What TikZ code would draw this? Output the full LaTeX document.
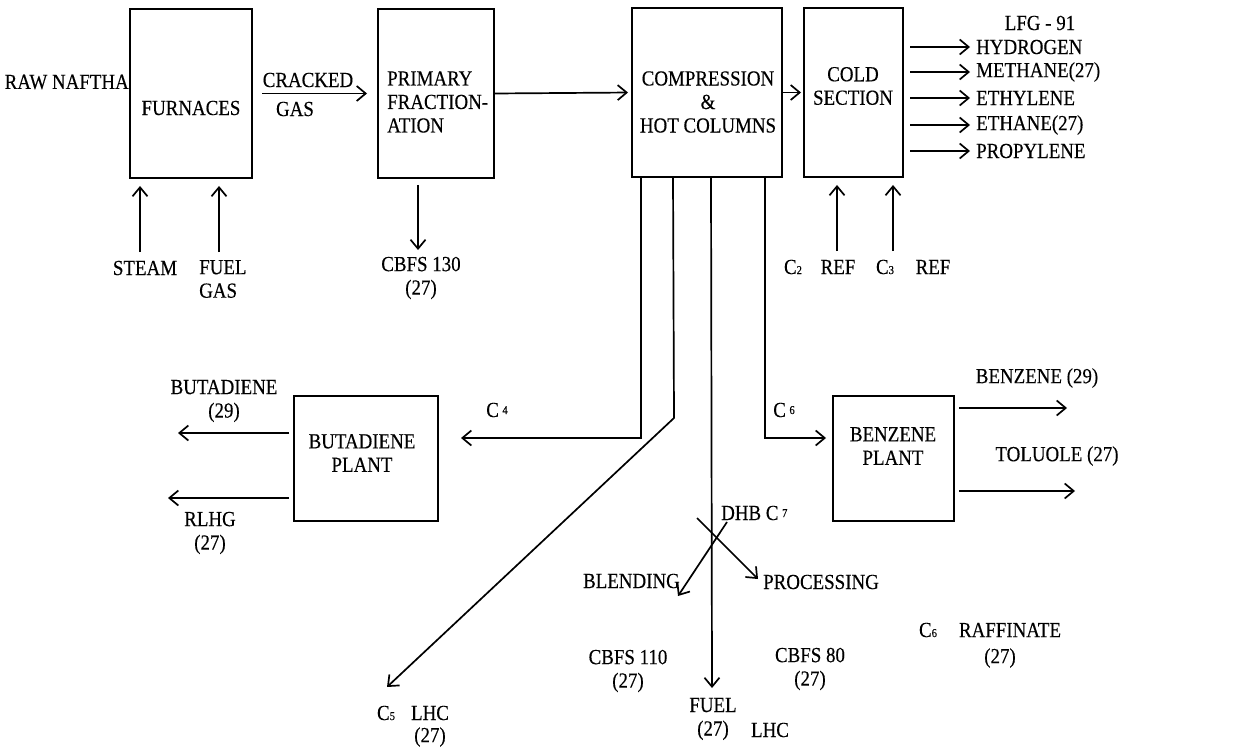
\documentclass[tikz,border=0pt]{standalone}
\usepackage{fontspec}
\setmainfont{Liberation Serif}[FakeStretch=0.88, FakeBold=0.3]
\usetikzlibrary{arrows.meta,calc}

\newcommand{\sm}[1]{{\fontsize{12}{12}\selectfont #1}}

\begin{document}
\begin{tikzpicture}[x=1pt, y=-1pt,
   font=\fontsize{21.5}{23.5}\selectfont,
   unit/.style={draw, line width=2pt, inner sep=0pt},
   lbl/.style={inner sep=0pt, align=center},
   flow/.style={line width=1.7pt, ->},
   >={Straight Barb[length=9pt, width=15pt]}]
  \useasboundingbox (0,0) rectangle (1238,751);

  % process units
  \node[unit, minimum width=122pt, minimum height=169pt] (furn) at (191,93.5) {};
  \node[unit, minimum width=116pt, minimum height=169pt] (prim) at (436,93.5) {};
  \node[unit, minimum width=150pt, minimum height=169pt] (comp) at (707,92.5) {};
  \node[unit, minimum width=99pt, minimum height=169pt] (cold) at (853.5,92.5) {};
  \node[unit, minimum width=144pt, minimum height=125pt] (butp) at (366,458.5) {};
  \node[unit, minimum width=121pt, minimum height=125pt] (benp) at (893.5,458.5) {};

  \node[lbl] (furnT) at (191,108) {FURNACES};
  \node[lbl, align=left, anchor=west] (primT) at (387,102) {PRIMARY\\FRACTION-\\ATION};
  \node[lbl] (compT) at (708,102) {COMPRESSION\\\&\hspace*{36pt}\\HOT COLUMNS};
  \node[lbl] (coldT) at (853,86) {COLD\\SECTION};
  \node[lbl] (butpT) at (362,453) {BUTADIENE\\PLANT};
  \node[lbl] (benpT) at (893,446) {BENZENE\\PLANT};

  % feeds and main train
  \node[lbl, anchor=east] (naph) at (129,82) {RAW NAFTHA};
  \node[lbl] (crk) at (308,80) {CRACKED};
  \node[lbl] (crkgas) at (295,109) {GAS};
  \draw[flow, shorten <=9pt, shorten >=10pt] (furn.east) -- (prim.west);
  \draw[flow, shorten >=3pt] (prim.east) -- (comp.west);
  \draw[flow, shorten >=2pt] (comp.east) -- (cold.west);

  \node[lbl] (steam) at (145,268) {STEAM};
  \node[lbl, align=left, anchor=west] (fgas) at (199,279) {FUEL\\GAS};
  \coordinate (stIn) at (140,252);
  \coordinate (fgIn) at (219,252);
  \draw[flow, shorten >=7pt] (stIn) -- (stIn |- furn.south);
  \draw[flow, shorten >=7pt] (fgIn) -- (fgIn |- furn.south);

  \node[lbl] (cb130) at (421,278) {CBFS 130\\(27)};
  \coordinate (p130) at (418,178);
  \coordinate (p130e) at (418,250);
  \draw[flow, shorten <=7pt] (p130) -- (p130e);

  % cold section products
  \node[lbl] (lfg) at (1040,23) {LFG - 91};
  \foreach \n/\y/\t in {hyd/47/HYDROGEN, meth/72/METHANE(27), ethy/98/ETHYLENE,
                        etha/125/ETHANE(27), prop/151/PROPYLENE}
  {
    \node[lbl, anchor=west] (\n) at (976,\y) {\t};
    \draw[flow, shorten <=6pt, shorten >=6pt] (cold.east |- \n.west) -- (\n.west);
  }

  \node[lbl] (c2) at (793,267) {C\sm{2}};
  \node[lbl] (r2) at (838,267) {REF};
  \node[lbl] (c3) at (885,267) {C\sm{3}};
  \node[lbl] (r3) at (933,267) {REF};
  \coordinate (c2In) at (837,251);
  \coordinate (c3In) at (893,251);
  \draw[flow, shorten >=7pt] (c2In) -- (c2In |- cold.south);
  \draw[flow, shorten >=7pt] (c3In) -- (c3In |- cold.south);

  % side draws from the hot columns
  \coordinate (t4) at ($(comp.south west)+(10,0)$);
  \coordinate (t5) at ($(comp.south west)+(42,0)$);
  \coordinate (tf) at ($(comp.south west)+(80,0)$);
  \coordinate (t6) at ($(comp.south west)+(134,0)$);
  \coordinate (k5) at (674,418);
  \coordinate (e5) at (387,687);
  \coordinate (ef) at (712,688);

  \node[lbl] (c4) at (497,410) {C\,\raisebox{3pt}{\sm{4}}};
  \draw[flow, shorten >=22pt] (t4) |- (butp.east |- 0,438);
  \node[lbl] (c6) at (784,410) {C\,\raisebox{3pt}{\sm{6}}};
  \draw[flow, shorten >=6pt] (t6) |- (benp.west |- 0,438);
  \draw[flow] (t5) -- (k5) -- (e5);
  \draw[flow] (tf) -- (ef);

  \node[lbl] (c5) at (386,713) {C\sm{5}};
  \node[lbl] (lhc5) at (430,713) {LHC};
  \node[lbl] (lhc5n) at (430,737) {(27)};
  \node[lbl] (fuel) at (713,719) {FUEL\\(27)};
  \node[lbl] (lhcf) at (770,730) {LHC};

  % DHB C7 split
  \node[lbl, anchor=west] (dhb) at (721,513) {DHB C\,\raisebox{3pt}{\sm{7}}};
  \node[lbl, anchor=west] (proc) at (763,582) {PROCESSING};
  \node[lbl, anchor=east] (blend) at (680,581) {BLENDING};
  \coordinate (xa) at (697,518);
  \coordinate (xb) at (727,522);
  \draw[flow] (xa) -- (758,579);
  \draw[flow] (xb) -- (678,596);

  \node[lbl] (cb110) at (628,671) {CBFS 110\\(27)};
  \node[lbl] (cb80) at (810,669) {CBFS 80\\(27)};
  \node[lbl] (c6r) at (928,630) {C\sm{6}};
  \node[lbl] (raff) at (1010,630) {RAFFINATE};
  \node[lbl] (raffn) at (1000,658) {(27)};

  % butadiene plant products
  \node[lbl] (bd) at (224,401) {BUTADIENE\\(29)};
  \node[lbl] (rlhg) at (210,533) {RLHG\\(27)};
  \coordinate (bdOut) at (178,433);
  \coordinate (rlOut) at (168,498);
  \draw[flow, shorten <=4pt] (butp.west |- bdOut) -- (bdOut);
  \draw[flow, shorten <=4pt] (butp.west |- rlOut) -- (rlOut);

  % benzene plant products
  \node[lbl] (bz) at (1037,378) {BENZENE (29)};
  \node[lbl] (tol) at (1057,456) {TOLUOLE (27)};
  \coordinate (bzOut) at (1067,408);
  \coordinate (tolOut) at (1075,491);
  \draw[flow, shorten <=4pt] (benp.east |- bzOut) -- (bzOut);
  \draw[flow, shorten <=4pt] (benp.east |- tolOut) -- (tolOut);
\end{tikzpicture}
\end{document}
